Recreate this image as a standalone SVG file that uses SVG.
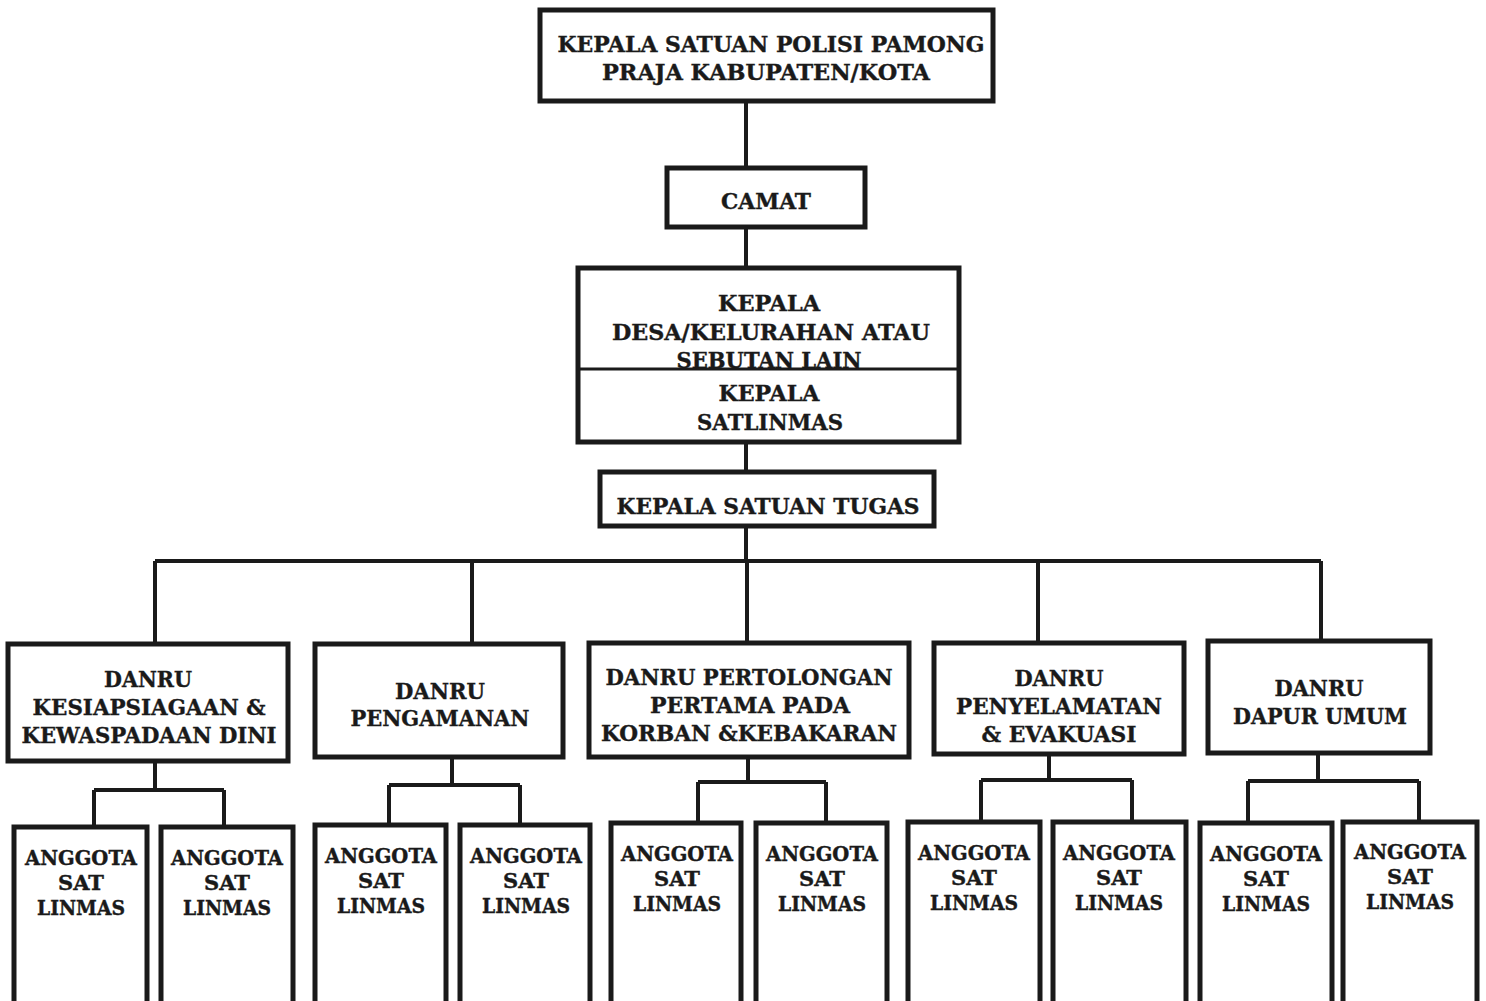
<svg xmlns="http://www.w3.org/2000/svg" width="1486" height="1001" viewBox="0 0 1486 1001">
<style>
.box{fill:#fff;stroke:#1a1a1a;stroke-width:5}
.ln{fill:none;stroke:#1a1a1a;stroke-width:4}
text{font-family:"DejaVu Serif","Liberation Serif",serif;font-weight:bold;font-size:22.5px;fill:#1a1a1a;text-anchor:middle;stroke:#1a1a1a;stroke-width:0.4}
.s{font-size:21px}
</style>
<rect width="1486" height="1001" fill="#fff"/>
<g id="connectors">
<path class="ln" d="M746 101V168M746 227V268M746 442V472M746 526V561M155 561H1321M155 561V644M472 561V644M747 561V643M1038 561V643M1321 561V641"/>
<path class="ln" d="M155 761V790M94 790H224M94 790V827M224 790V827"/>
<path class="ln" d="M452 757V785M389 785H520M389 785V825M520 785V825"/>
<path class="ln" d="M748 757V782M698 782H826M698 782V823M826 782V823"/>
<path class="ln" d="M1049 754V780M981 780H1132M981 780V822M1132 780V822"/>
<path class="ln" d="M1318 753V781M1248 781H1419M1248 781V823M1419 781V823"/>
</g>
<g id="kepala-satpol">
<rect class="box" x="540" y="10" width="453" height="91"/>
<text x="771" y="52" textLength="427" lengthAdjust="spacingAndGlyphs">KEPALA SATUAN POLISI PAMONG</text>
<text x="766" y="80" textLength="328" lengthAdjust="spacingAndGlyphs">PRAJA KABUPATEN/KOTA</text>
</g>
<g id="camat">
<rect class="box" x="667" y="168" width="198" height="59"/>
<text x="766" y="209" textLength="90" lengthAdjust="spacingAndGlyphs">CAMAT</text>
</g>
<g id="kepala-desa">
<rect class="box" x="578" y="268" width="381" height="174"/>
<text x="769" y="311" textLength="102" lengthAdjust="spacingAndGlyphs">KEPALA</text>
<text x="771" y="340" textLength="318" lengthAdjust="spacingAndGlyphs">DESA/KELURAHAN ATAU</text>
<text x="769" y="368" textLength="185" lengthAdjust="spacingAndGlyphs">SEBUTAN LAIN</text>
<line class="ln" x1="578" y1="369" x2="959" y2="369" style="stroke-width:3"/>
<text x="769" y="401" textLength="101" lengthAdjust="spacingAndGlyphs">KEPALA</text>
<text x="770" y="430" textLength="146" lengthAdjust="spacingAndGlyphs">SATLINMAS</text>
</g>
<g id="kepala-satgas">
<rect class="box" x="600" y="472" width="334" height="54"/>
<text x="768" y="514" textLength="303" lengthAdjust="spacingAndGlyphs">KEPALA SATUAN TUGAS</text>
</g>
<g id="danru-1">
<rect class="box" x="8" y="644" width="280" height="117"/>
<text x="148" y="687" textLength="88" lengthAdjust="spacingAndGlyphs">DANRU</text>
<text x="149" y="715" textLength="233" lengthAdjust="spacingAndGlyphs">KESIAPSIAGAAN &amp;</text>
<text x="149" y="743" textLength="255" lengthAdjust="spacingAndGlyphs">KEWASPADAAN DINI</text>
</g>
<g id="danru-2">
<rect class="box" x="315" y="644" width="248" height="113"/>
<text x="440" y="699" textLength="90" lengthAdjust="spacingAndGlyphs">DANRU</text>
<text x="440" y="726" textLength="179" lengthAdjust="spacingAndGlyphs">PENGAMANAN</text>
</g>
<g id="danru-3">
<rect class="box" x="589" y="643" width="320" height="114"/>
<text x="749" y="685" textLength="287" lengthAdjust="spacingAndGlyphs">DANRU PERTOLONGAN</text>
<text x="750" y="713" textLength="200" lengthAdjust="spacingAndGlyphs">PERTAMA PADA</text>
<text x="749" y="741" textLength="296" lengthAdjust="spacingAndGlyphs">KORBAN &amp;KEBAKARAN</text>
</g>
<g id="danru-4">
<rect class="box" x="934" y="643" width="250" height="111"/>
<text x="1059" y="686" textLength="89" lengthAdjust="spacingAndGlyphs">DANRU</text>
<text x="1059" y="714" textLength="206" lengthAdjust="spacingAndGlyphs">PENYELAMATAN</text>
<text x="1059" y="742" textLength="155" lengthAdjust="spacingAndGlyphs">&amp; EVAKUASI</text>
</g>
<g id="danru-5">
<rect class="box" x="1208" y="641" width="222" height="112"/>
<text x="1319" y="696" textLength="89" lengthAdjust="spacingAndGlyphs">DANRU</text>
<text x="1320" y="724" textLength="174" lengthAdjust="spacingAndGlyphs">DAPUR UMUM</text>
</g>
<g id="anggota-1a"><rect class="box" x="14" y="827" width="133" height="190"/>
<text class="s" x="81" y="865" textLength="112" lengthAdjust="spacingAndGlyphs">ANGGOTA</text><text class="s" x="81" y="890">SAT</text><text class="s" x="81" y="915" textLength="88" lengthAdjust="spacingAndGlyphs">LINMAS</text></g>
<g id="anggota-1b"><rect class="box" x="161" y="827" width="132" height="190"/>
<text class="s" x="227" y="865" textLength="112" lengthAdjust="spacingAndGlyphs">ANGGOTA</text><text class="s" x="227" y="890">SAT</text><text class="s" x="227" y="915" textLength="88" lengthAdjust="spacingAndGlyphs">LINMAS</text></g>
<g id="anggota-2a"><rect class="box" x="315" y="825" width="131" height="190"/>
<text class="s" x="381" y="863" textLength="112" lengthAdjust="spacingAndGlyphs">ANGGOTA</text><text class="s" x="381" y="888">SAT</text><text class="s" x="381" y="913" textLength="88" lengthAdjust="spacingAndGlyphs">LINMAS</text></g>
<g id="anggota-2b"><rect class="box" x="460" y="825" width="130" height="190"/>
<text class="s" x="526" y="863" textLength="112" lengthAdjust="spacingAndGlyphs">ANGGOTA</text><text class="s" x="526" y="888">SAT</text><text class="s" x="526" y="913" textLength="88" lengthAdjust="spacingAndGlyphs">LINMAS</text></g>
<g id="anggota-3a"><rect class="box" x="611" y="823" width="130" height="190"/>
<text class="s" x="677" y="861" textLength="112" lengthAdjust="spacingAndGlyphs">ANGGOTA</text><text class="s" x="677" y="886">SAT</text><text class="s" x="677" y="911" textLength="88" lengthAdjust="spacingAndGlyphs">LINMAS</text></g>
<g id="anggota-3b"><rect class="box" x="756" y="823" width="131" height="190"/>
<text class="s" x="822" y="861" textLength="112" lengthAdjust="spacingAndGlyphs">ANGGOTA</text><text class="s" x="822" y="886">SAT</text><text class="s" x="822" y="911" textLength="88" lengthAdjust="spacingAndGlyphs">LINMAS</text></g>
<g id="anggota-4a"><rect class="box" x="908" y="822" width="132" height="190"/>
<text class="s" x="974" y="860" textLength="112" lengthAdjust="spacingAndGlyphs">ANGGOTA</text><text class="s" x="974" y="885">SAT</text><text class="s" x="974" y="910" textLength="88" lengthAdjust="spacingAndGlyphs">LINMAS</text></g>
<g id="anggota-4b"><rect class="box" x="1053" y="822" width="133" height="190"/>
<text class="s" x="1119" y="860" textLength="112" lengthAdjust="spacingAndGlyphs">ANGGOTA</text><text class="s" x="1119" y="885">SAT</text><text class="s" x="1119" y="910" textLength="88" lengthAdjust="spacingAndGlyphs">LINMAS</text></g>
<g id="anggota-5a"><rect class="box" x="1200" y="823" width="132" height="190"/>
<text class="s" x="1266" y="861" textLength="112" lengthAdjust="spacingAndGlyphs">ANGGOTA</text><text class="s" x="1266" y="886">SAT</text><text class="s" x="1266" y="911" textLength="88" lengthAdjust="spacingAndGlyphs">LINMAS</text></g>
<g id="anggota-5b"><rect class="box" x="1343" y="822" width="134" height="190"/>
<text class="s" x="1410" y="859" textLength="112" lengthAdjust="spacingAndGlyphs">ANGGOTA</text><text class="s" x="1410" y="884">SAT</text><text class="s" x="1410" y="909" textLength="88" lengthAdjust="spacingAndGlyphs">LINMAS</text></g>
</svg>
